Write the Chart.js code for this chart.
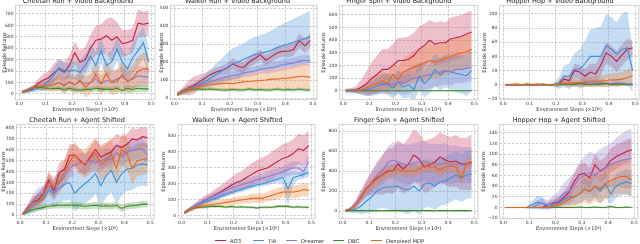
<!DOCTYPE html>
<html>
<head>
<meta charset="utf-8">
<script src="https://cdn.jsdelivr.net/npm/chart.js@4.4.0/dist/chart.umd.min.js"></script>
<style>
  body { margin: 0; width: 640px; height: 244px; overflow: hidden; background: #fff; position: relative; font-family: "DejaVu Sans", sans-serif; }
  .panel { position: absolute; height: 116px; }
  .lg { position: absolute; top: 236.5px; height: 8px; font-size: 5.3px; line-height: 8px; color: #333; white-space: nowrap; }
  .lg i { position: absolute; left: 0; top: 3.5px; width: 11px; height: 1.3px; }
  .lg span { position: absolute; left: 15px; }
</style>
</head>
<body>
<div id="charts"></div>
<div id="legend"></div>
<script>
// x positions of the logged evaluation points (x 1e6 env steps)
const steps = [0.01, 0.03, 0.05, 0.07, 0.09, 0.11, 0.13, 0.15, 0.17, 0.19, 0.21, 0.23, 0.25,
               0.27, 0.29, 0.31, 0.33, 0.35, 0.37, 0.39, 0.41, 0.43, 0.45, 0.47, 0.49]
const xTicks = [0, 0.1, 0.2, 0.3, 0.4, 0.5]
const series = ["AO3", "TIA", "Dreamer", "DBC", "Denoised MDP"]
const lineColors = ["#c21f45", "#3d8fd6", "#8f7bc9", "#3f8a2c", "#e8651c"]
const bandColors = ["rgba(200,45,85,0.3)", "rgba(70,150,215,0.32)", "rgba(140,120,200,0.3)", "rgba(70,150,50,0.3)", "rgba(235,120,40,0.3)"]

// rows follow the series order above: AO3, TIA, Dreamer, DBC, Denoised MDP
const cheetahVideoMean = [
  [15, 25, 45, 90, 120, 140, 180, 220, 190, 250, 360, 280, 300, 400, 470, 480, 510, 470, 500, 440, 450, 470, 620, 610, 620],
  [20, 25, 35, 50, 70, 110, 160, 230, 210, 200, 210, 190, 250, 330, 250, 380, 250, 280, 390, 280, 220, 320, 380, 450, 280],
  [20, 35, 55, 60, 65, 75, 85, 100, 80, 100, 80, 110, 90, 100, 130, 90, 120, 110, 130, 150, 110, 130, 160, 150, 150],
  [20, 35, 55, 60, 55, 50, 48, 50, 40, 50, 40, 30, 40, 40, 50, 45, 40, 40, 50, 30, 50, 40, 50, 45, 45],
  [20, 35, 55, 65, 70, 75, 80, 100, 70, 110, 80, 120, 60, 100, 170, 90, 180, 100, 110, 170, 110, 140, 200, 220, 215]
]
const cheetahVideoSpread = [
  [10, 15, 25, 40, 50, 60, 80, 90, 90, 90, 100, 100, 110, 120, 130, 130, 150, 200, 130, 120, 110, 110, 120, 110, 110],
  [10, 15, 20, 30, 40, 50, 60, 70, 70, 70, 80, 90, 100, 110, 120, 110, 100, 100, 100, 110, 120, 130, 140, 140, 130],
  [10, 15, 20, 25, 30, 40, 50, 60, 60, 70, 60, 70, 60, 70, 80, 70, 80, 70, 80, 90, 80, 80, 90, 90, 90],
  [8, 10, 15, 15, 20, 20, 20, 20, 20, 20, 20, 20, 20, 20, 25, 25, 25, 25, 25, 25, 30, 30, 30, 30, 30],
  [10, 15, 20, 30, 40, 50, 60, 70, 70, 80, 80, 90, 90, 100, 110, 100, 120, 110, 110, 120, 110, 120, 130, 140, 140]
]
const cheetahVideoTicks = [0, 100, 200, 300, 400, 500, 600, 700]

const walkerVideoMean = [
  [20, 40, 55, 70, 90, 110, 130, 145, 155, 165, 190, 175, 170, 200, 220, 240, 210, 230, 250, 260, 260, 270, 320, 290, 320],
  [20, 35, 50, 60, 75, 90, 110, 130, 150, 170, 190, 200, 215, 230, 240, 250, 255, 265, 280, 290, 300, 310, 320, 330, 340],
  [20, 35, 50, 60, 70, 80, 90, 100, 110, 120, 125, 130, 140, 145, 150, 160, 165, 170, 175, 185, 190, 195, 205, 210, 205],
  [20, 35, 45, 50, 50, 48, 50, 48, 45, 45, 48, 45, 45, 50, 45, 48, 45, 45, 50, 45, 48, 45, 50, 45, 45],
  [20, 35, 50, 55, 65, 70, 75, 78, 80, 82, 80, 85, 90, 92, 95, 98, 100, 105, 105, 110, 110, 115, 120, 120, 115]
]
const walkerVideoSpread = [
  [10, 20, 40, 50, 40, 30, 25, 25, 25, 30, 30, 30, 30, 30, 30, 30, 30, 30, 30, 30, 35, 35, 40, 40, 40],
  [10, 15, 20, 25, 30, 40, 50, 60, 70, 80, 85, 90, 90, 95, 100, 100, 105, 110, 115, 120, 125, 130, 135, 140, 145],
  [10, 12, 15, 15, 15, 20, 20, 20, 20, 20, 25, 25, 25, 25, 25, 25, 30, 30, 30, 30, 30, 30, 30, 30, 30],
  [10, 10, 10, 10, 10, 10, 10, 10, 10, 10, 10, 10, 10, 10, 10, 10, 10, 10, 10, 10, 10, 10, 10, 10, 10],
  [10, 15, 20, 20, 25, 25, 30, 30, 30, 35, 35, 40, 40, 45, 45, 50, 50, 55, 55, 60, 60, 65, 65, 70, 70]
]
const walkerVideoTicks = [0, 100, 200, 300, 400, 500]

const fingerVideoMean = [
  [5, 5, 10, 30, 60, 100, 130, 170, 170, 200, 240, 240, 250, 280, 330, 360, 400, 370, 380, 380, 410, 420, 430, 450, 465],
  [0, 0, 0, 5, 10, 20, 40, 60, 50, 20, 70, 30, 50, 10, 120, 60, 100, 170, 130, 160, 150, 140, 130, 120, 160],
  [5, 5, 5, 10, 15, 25, 40, 50, 60, 50, 70, 60, 80, 100, 110, 120, 130, 140, 150, 160, 150, 170, 170, 180, 185],
  [2, 2, 2, 2, 2, 2, 2, 2, 2, 2, 2, 2, 2, 2, 2, 2, 2, 2, 2, 2, 2, 2, 2, 2, 2],
  [5, 5, 5, 10, 25, 45, 60, 80, 60, 130, 90, 150, 170, 190, 200, 220, 240, 230, 240, 260, 270, 290, 300, 310, 330]
]
const fingerVideoSpread = [
  [10, 15, 30, 60, 100, 130, 150, 160, 160, 170, 180, 180, 180, 180, 180, 170, 160, 170, 170, 160, 170, 170, 170, 170, 170],
  [20, 20, 20, 30, 50, 60, 70, 80, 80, 80, 90, 90, 100, 100, 110, 110, 120, 130, 130, 130, 140, 150, 150, 160, 160],
  [5, 8, 15, 30, 40, 50, 60, 70, 80, 80, 90, 90, 100, 100, 110, 110, 110, 110, 110, 110, 110, 110, 110, 110, 110],
  [5, 5, 5, 5, 5, 5, 5, 5, 5, 5, 5, 5, 5, 5, 5, 5, 5, 5, 5, 5, 5, 5, 5, 5, 5],
  [5, 8, 10, 20, 40, 60, 70, 80, 80, 100, 100, 110, 120, 130, 130, 140, 140, 130, 130, 130, 130, 130, 130, 130, 130]
]
const fingerVideoTicks = [0, 100, 200, 300, 400, 500, 600]

const hopperVideoMean = [
  [0, 0, 0, 0, 0, 0, 0, 0, 0, 0, 1, 8, 6, 20, 18, 12, 18, 15, 28, 45, 40, 33, 42, 50, 52],
  [0, 0, 0, 0, 0, 0, 0, 0, 0, 0, 2, 12, 12, 22, 22, 30, 40, 40, 40, 55, 50, 43, 50, 52, 20],
  [0, 0, 0, 0, 0, 0, 0, 0, 0, 0, 1, 2, 1, 2, 2, 3, 2, 2, 3, 2, 2, 2, 2, 1, 1],
  [0, 0, 0, 0, 1, 0, 0, 1, 0, 0, 0, 1, 1, 0, 2, 1, 0, 1, 1, 2, 0, 1, 1, 0, 0],
  [0, 0, 1, 0, 0, 0, 1, 0, 0, 0, 1, 2, 2, 3, 3, 4, 4, 5, 5, 6, 7, 7, 8, 10, 13]
]
const hopperVideoSpread = [
  [1, 1, 2, 1, 1, 2, 1, 1, 1, 2, 4, 6, 6, 10, 10, 10, 12, 14, 15, 15, 15, 15, 15, 15, 10],
  [1, 1, 1, 1, 1, 1, 1, 1, 1, 2, 8, 15, 18, 22, 28, 32, 38, 40, 42, 45, 45, 45, 50, 52, 30],
  [1, 1, 1, 1, 2, 2, 1, 1, 1, 1, 2, 3, 3, 4, 4, 5, 5, 5, 5, 5, 4, 4, 3, 3, 2],
  [1, 1, 1, 1, 2, 1, 1, 2, 1, 1, 1, 2, 2, 1, 2, 2, 1, 2, 2, 2, 1, 2, 2, 1, 1],
  [2, 2, 2, 1, 1, 1, 2, 1, 1, 1, 2, 4, 5, 6, 6, 7, 7, 8, 8, 9, 9, 10, 10, 11, 12]
]
const hopperVideoTicks = [-20, 0, 20, 40, 60, 80, 100]

const cheetahAgentMean = [
  [10, 70, 120, 140, 200, 320, 220, 390, 420, 550, 550, 500, 460, 540, 600, 530, 560, 580, 640, 620, 650, 700, 690, 720, 710],
  [10, 40, 80, 120, 150, 230, 200, 250, 280, 300, 200, 250, 290, 330, 380, 270, 360, 410, 300, 380, 420, 430, 460, 470, 460],
  [10, 60, 130, 180, 200, 270, 210, 290, 350, 430, 460, 480, 470, 500, 480, 500, 520, 510, 570, 540, 580, 590, 600, 610, 550],
  [5, 30, 50, 60, 70, 80, 85, 90, 90, 90, 90, 85, 80, 85, 90, 80, 85, 80, 90, 60, 80, 85, 90, 100, 100],
  [10, 50, 110, 130, 170, 300, 260, 300, 390, 490, 560, 490, 470, 520, 570, 470, 500, 560, 430, 600, 570, 430, 500, 510, 520]
]
const cheetahAgentSpread = [
  [10, 30, 50, 60, 70, 80, 80, 90, 90, 100, 100, 100, 100, 90, 100, 110, 110, 110, 110, 100, 100, 100, 100, 90, 90],
  [10, 40, 60, 80, 100, 120, 130, 140, 150, 160, 170, 170, 180, 190, 190, 200, 200, 200, 200, 200, 200, 200, 200, 200, 200],
  [10, 40, 60, 70, 70, 80, 80, 80, 90, 90, 90, 90, 90, 90, 90, 90, 90, 90, 90, 90, 90, 90, 90, 90, 90],
  [5, 15, 20, 20, 25, 25, 25, 30, 30, 30, 30, 30, 30, 30, 30, 30, 30, 30, 30, 30, 30, 30, 30, 30, 30],
  [10, 30, 50, 60, 70, 90, 90, 100, 110, 110, 120, 120, 130, 140, 140, 150, 150, 150, 150, 150, 150, 150, 140, 140, 140]
]
const cheetahAgentTicks = [0, 100, 200, 300, 400, 500, 600, 700, 800]

const walkerAgentMean = [
  [20, 40, 60, 80, 100, 115, 135, 150, 170, 190, 210, 220, 240, 260, 280, 290, 300, 320, 340, 360, 370, 390, 420, 410, 440],
  [20, 40, 60, 75, 90, 100, 110, 125, 135, 145, 155, 165, 175, 185, 195, 200, 210, 220, 230, 240, 170, 240, 250, 260, 270],
  [20, 40, 60, 80, 100, 115, 130, 145, 160, 175, 185, 195, 205, 215, 225, 235, 245, 255, 265, 275, 290, 300, 300, 280, 340],
  [20, 40, 50, 55, 55, 60, 60, 60, 55, 60, 55, 58, 55, 55, 50, 55, 55, 55, 60, 60, 60, 55, 58, 55, 55],
  [20, 40, 55, 60, 65, 70, 75, 80, 85, 90, 95, 100, 105, 110, 112, 110, 120, 130, 140, 150, 150, 150, 155, 165, 160]
]
const walkerAgentSpread = [
  [10, 15, 20, 25, 30, 30, 35, 40, 45, 50, 55, 60, 65, 70, 70, 75, 80, 85, 85, 90, 90, 90, 95, 95, 95],
  [10, 12, 15, 15, 15, 15, 15, 15, 15, 15, 15, 15, 15, 15, 15, 15, 20, 20, 20, 40, 110, 40, 25, 25, 25],
  [10, 12, 15, 15, 20, 20, 20, 20, 25, 25, 25, 25, 30, 30, 30, 30, 35, 35, 35, 35, 40, 40, 40, 40, 40],
  [8, 8, 8, 8, 8, 8, 8, 8, 8, 8, 8, 8, 8, 8, 8, 8, 8, 8, 8, 8, 8, 8, 8, 8, 8],
  [10, 12, 15, 15, 15, 15, 20, 20, 20, 20, 25, 25, 25, 30, 30, 30, 30, 35, 35, 35, 35, 40, 40, 40, 40]
]
const walkerAgentTicks = [0, 100, 200, 300, 400, 500]

const fingerAgentMean = [
  [5, 20, 70, 150, 230, 280, 330, 360, 400, 400, 470, 420, 470, 560, 520, 440, 460, 490, 540, 510, 490, 500, 470, 470, 490],
  [0, 5, 20, 50, 100, 140, 200, 230, 240, 240, 250, 220, 210, 250, 200, 270, 280, 250, 290, 300, 330, 360, 330, 360, 370],
  [5, 20, 70, 150, 220, 290, 350, 400, 480, 510, 490, 470, 460, 480, 490, 500, 470, 470, 470, 480, 460, 470, 460, 460, 460],
  [3, 5, 4, 5, 3, 4, 5, 3, 4, 5, 4, 3, 5, 4, 3, 5, 4, 3, 4, 5, 3, 4, 5, 4, 3],
  [5, 20, 60, 130, 220, 270, 320, 360, 390, 400, 420, 400, 400, 400, 420, 450, 440, 440, 410, 440, 450, 440, 330, 470, 480]
]
const fingerAgentSpread = [
  [10, 20, 40, 60, 80, 120, 160, 200, 220, 230, 240, 250, 260, 260, 260, 260, 260, 250, 250, 250, 250, 260, 260, 260, 280],
  [10, 20, 40, 80, 120, 150, 180, 200, 220, 230, 240, 240, 240, 240, 240, 240, 240, 240, 240, 240, 240, 240, 240, 240, 240],
  [10, 20, 40, 60, 80, 100, 120, 140, 160, 180, 190, 200, 200, 200, 200, 200, 200, 200, 200, 200, 190, 190, 180, 180, 180],
  [8, 8, 8, 8, 8, 8, 8, 8, 8, 8, 8, 8, 8, 8, 8, 8, 8, 8, 8, 8, 8, 8, 8, 8, 8],
  [10, 15, 30, 40, 50, 60, 60, 60, 60, 60, 60, 60, 60, 60, 60, 60, 60, 60, 60, 60, 60, 60, 80, 60, 60]
]
const fingerAgentTicks = [0, 200, 400, 600, 800]

const hopperAgentMean = [
  [0, 0, 0, 0, 0, 0, 0, 0, 5, 8, 10, 18, 28, 48, 62, 64, 55, 80, 68, 75, 88, 95, 100, 105, 108],
  [0, 0, 0, 0, 0, 5, 10, 8, 0, 5, 8, 15, 20, 20, 25, 35, 30, 40, 30, 45, 25, 40, 45, 48, 45],
  [0, 0, 0, 0, 0, 0, 5, 8, 5, 10, 15, 25, 30, 40, 55, 60, 65, 60, 70, 75, 80, 85, 88, 90, 92],
  [0, 0, 0, 0, 0, 0, 0, 0, 0, 0, 0, 0, 0, 0, 1, 0, 0, 1, 0, 0, 2, 0, 0, 1, 0],
  [0, 0, 0, 0, 0, 0, 0, 0, 0, 2, 5, 10, 15, 20, 25, 35, 30, 40, 35, 45, 50, 55, 58, 58, 52]
]
const hopperAgentSpread = [
  [0, 0, 0, 0, 0, 1, 1, 2, 6, 8, 10, 12, 15, 15, 18, 20, 20, 20, 20, 20, 22, 22, 22, 22, 22],
  [0, 0, 0, 0, 2, 8, 12, 12, 4, 6, 8, 12, 15, 15, 18, 20, 20, 22, 22, 25, 20, 22, 22, 24, 24],
  [0, 0, 0, 0, 1, 2, 8, 10, 8, 12, 15, 20, 25, 25, 30, 35, 40, 40, 40, 40, 40, 45, 50, 55, 55],
  [1.5, 1.5, 1.5, 1.5, 1.5, 1.5, 1.5, 1.5, 1.5, 1.5, 1.5, 1.5, 1.5, 1.5, 1.5, 1.5, 1.5, 1.5, 1.5, 1.5, 1.5, 1.5, 1.5, 1.5, 1.5],
  [0, 0, 0, 0, 0, 0, 0, 0, 1, 3, 5, 10, 15, 18, 20, 25, 25, 28, 28, 30, 30, 30, 32, 32, 32]
]
const hopperAgentTicks = [-20, 0, 20, 40, 60, 80, 100, 120, 140]

// panel placement: [left, top, width, y-axis width]
const panels = [
  { title: "Cheetah Run + Video Background", mean: cheetahVideoMean, spread: cheetahVideoSpread, yTicks: cheetahVideoTicks, yMin: -50, yMax: 776, box: [1, -3, 162, 14.5] },
  { title: "Walker Run + Video Background", mean: walkerVideoMean, spread: walkerVideoSpread, yTicks: walkerVideoTicks, yMin: -9, yMax: 515, box: [158, -3, 167, 12.4] },
  { title: "Finger Spin + Video Background", mean: fingerVideoMean, spread: fingerVideoSpread, yTicks: fingerVideoTicks, yMin: -69, yMax: 676, box: [320, -3, 166, 19.3] },
  { title: "Hopper Hop + Video Background", mean: hopperVideoMean, spread: hopperVideoSpread, yTicks: hopperVideoTicks, yMin: -21, yMax: 112, box: [481, -3, 166, 18.3] },
  { title: "Cheetah Run + Agent Shifted", mean: cheetahAgentMean, spread: cheetahAgentSpread, yTicks: cheetahAgentTicks, yMin: -34, yMax: 834, box: [0, 116, 162, 16.4] },
  { title: "Walker Run + Agent Shifted", mean: walkerAgentMean, spread: walkerAgentSpread, yTicks: walkerAgentTicks, yMin: -17, yMax: 573, box: [160, 116, 163, 18] },
  { title: "Finger Spin + Agent Shifted", mean: fingerAgentMean, spread: fingerAgentSpread, yTicks: fingerAgentTicks, yMin: -77, yMax: 867, box: [320, 116, 166, 19] },
  { title: "Hopper Hop + Agent Shifted", mean: hopperAgentMean, spread: hopperAgentSpread, yTicks: hopperAgentTicks, yMin: -21, yMax: 156, box: [480, 116, 166, 19.5] }
]

const FONT = "'DejaVu Sans', sans-serif"

// light grey spine all round the plot area
const frame = {
  id: "frame",
  afterDatasetsDraw(chart) {
    const { ctx, chartArea: a } = chart
    ctx.save()
    ctx.strokeStyle = "#c8c8c8"
    ctx.lineWidth = 0.8
    ctx.strokeRect(a.left, a.top, a.right - a.left, a.bottom - a.top)
    ctx.restore()
  }
}

const gridOpts = { color: "#b6b6b6", lineWidth: 0.7, drawTicks: false }
const borderOpts = { display: false, dash: [2.5, 1.5] }

function makePanel(p) {
  const [left, top, width, yW] = p.box
  const div = document.createElement("div")
  div.className = "panel"
  div.style.left = left + "px"
  div.style.top = top + "px"
  div.style.width = width + "px"
  const canvas = document.createElement("canvas")
  div.appendChild(canvas)
  document.getElementById("charts").appendChild(div)

  const datasets = []
  p.mean.forEach((m, i) => {
    const s = p.spread[i]
    datasets.push({
      data: m.map((v, k) => ({ x: steps[k], y: v - s[k] })),
      borderWidth: 0, pointRadius: 0, fill: false, order: 20 + (4 - i)
    })
    datasets.push({
      data: m.map((v, k) => ({ x: steps[k], y: v + s[k] })),
      borderWidth: 0, pointRadius: 0, fill: "-1", backgroundColor: bandColors[i], order: 20 + (4 - i)
    })
  })
  p.mean.forEach((m, i) => {
    datasets.push({
      label: series[i],
      data: m.map((v, k) => ({ x: steps[k], y: v })),
      borderColor: lineColors[i],
      borderWidth: 1.1,
      pointRadius: 0,
      fill: false,
      order: 4 - i
    })
  })

  return new Chart(canvas, {
    type: "line",
    data: { datasets },
    options: {
      responsive: true,
      maintainAspectRatio: false,
      animation: false,
      events: [],
      layout: { padding: { left: 0, right: 8, top: 0, bottom: 0 } },
      plugins: {
        legend: { display: false },
        tooltip: { enabled: false },
        title: {
          display: true,
          text: p.title,
          color: "#222",
          font: { family: FONT, size: 6.5, weight: "normal", lineHeight: 1.2 },
          padding: { top: 0, bottom: 0.5 }
        }
      },
      scales: {
        x: {
          type: "linear",
          min: -0.014,
          max: 0.514,
          afterBuildTicks: s => { s.ticks = xTicks.map(v => ({ value: v })) },
          afterFit: s => { s.height = 13.3 },
          ticks: { font: { family: FONT, size: 4.5 }, color: "#333", padding: 1.5, maxRotation: 0, autoSkip: false, callback: v => v.toFixed(1) },
          grid: gridOpts,
          border: borderOpts,
          title: { display: true, text: "Environment Steps (×10⁶)", color: "#333", font: { family: FONT, size: 5 }, padding: 0 }
        },
        y: {
          min: p.yMin,
          max: p.yMax,
          afterBuildTicks: s => { s.ticks = p.yTicks.map(v => ({ value: v })) },
          afterFit: s => { s.width = yW },
          ticks: { font: { family: FONT, size: 4.5 }, color: "#333", padding: 2, callback: v => v < 0 ? "\u2212" + Math.abs(v) : String(v) },
          grid: gridOpts,
          border: borderOpts,
          title: { display: true, text: "Episode Returns", color: "#333", font: { family: FONT, size: 5 }, padding: { top: 1, bottom: 0 } }
        }
      }
    },
    plugins: [frame]
  })
}

panels.forEach(makePanel)

// shared legend under the grid
const legendX = [215, 253, 286, 333, 371]
const legend = document.getElementById("legend")
series.forEach((name, i) => {
  const item = document.createElement("div")
  item.className = "lg"
  item.style.left = legendX[i] + "px"
  item.innerHTML = '<i style="background:' + lineColors[i] + '"></i><span>' + name + "</span>"
  legend.appendChild(item)
})
</script>
</body>
</html>
